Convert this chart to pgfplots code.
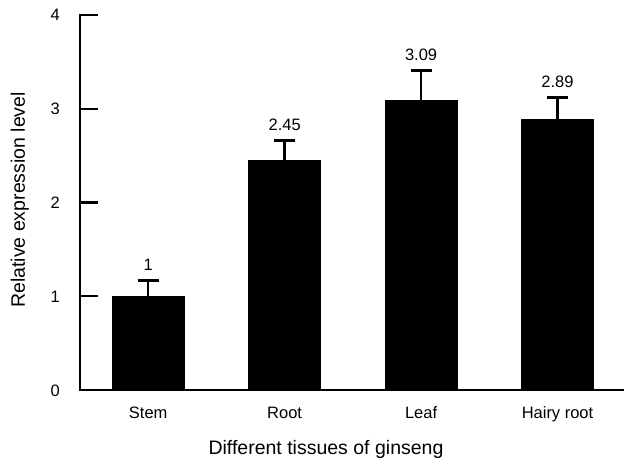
\documentclass[border=0pt]{standalone}
\usepackage{fontspec}
\setmainfont{Liberation Sans}
\usepackage{pgfplots}
\pgfplotsset{compat=1.18}
\usepackage{pgfplotstable}
\pgfplotstableread{
x y err top label
0 1.00 0.17 1.17 1
1 2.45 0.21 2.66 2.45
2 3.09 0.32 3.41 3.09
3 2.89 0.23 3.12 2.89
}\datatable
\begin{document}
\begin{tikzpicture}
\begin{axis}[
  scale only axis,
  width=543pt, height=375pt,
  xmin=-0.5, xmax=3.48,
  ymin=0, ymax=4,
  clip=false,
  axis lines=left,
  axis line style={-},
  xtick={0,1,2,3},
  xticklabels={Stem, Root, Leaf, Hairy root},
  xtick style={draw=none},
  ytick={0,1,2,3,4},
  tick align=inside,
  ytick style={line width=2.2pt, black},
  major tick length=18pt,
  /pgf/number format/assume math mode=true,
  ticklabel style={font=\fontsize{16.5}{18}\selectfont, inner sep=0pt},
  xticklabel style={anchor=base, yshift=-28pt},
  yticklabel style={anchor=base east, xshift=-20pt, yshift=-6pt},
  xlabel={Different tissues of ginseng},
  ylabel={Relative expression level},
  xlabel style={font=\fontsize{19.5}{22}\selectfont, at={(axis description cs:0.453,-0.1733)}, anchor=base, inner sep=0pt},
  ylabel style={font=\fontsize{19.5}{22}\selectfont, at={(axis description cs:-0.1013,0.507)}, anchor=base, rotate=0, inner sep=0pt},
]
% error bar stems
\addplot[black, line width=2.4pt, mark=none] coordinates {(0,1.00) (0,1.17)};
\addplot[black, line width=2.4pt, mark=none] coordinates {(1,2.45) (1,2.66)};
\addplot[black, line width=2.4pt, mark=none] coordinates {(2,3.09) (2,3.41)};
\addplot[black, line width=2.4pt, mark=none] coordinates {(3,2.89) (3,3.12)};
% error bar caps
\addplot[black, line width=2.4pt, mark=none] coordinates {(-0.077,1.17) (0.077,1.17)};
\addplot[black, line width=2.4pt, mark=none] coordinates {(0.923,2.66) (1.077,2.66)};
\addplot[black, line width=2.4pt, mark=none] coordinates {(1.923,3.41) (2.077,3.41)};
\addplot[black, line width=2.4pt, mark=none] coordinates {(2.923,3.12) (3.077,3.12)};
\addplot[ybar, bar width=72pt, fill=black, draw=black, line width=0.6pt]
  table[x=x, y=y] {\datatable};
\addplot[draw=none, mark=none,
  nodes near coords, point meta=explicit symbolic,
  nodes near coords style={anchor=base, yshift=10pt, inner sep=0pt, font=\fontsize{16.5}{18}\selectfont}]
  table[x=x, y=top, meta=label] {\datatable};
\draw[black, line width=2.2pt, line cap=rect] (rel axis cs:0,1) -- (rel axis cs:0,0) -- (rel axis cs:1,0);
\path (rel axis cs:0,0) ++(-80pt,-82pt) rectangle ++(630pt,472pt);
\end{axis}
\end{tikzpicture}
\end{document}
